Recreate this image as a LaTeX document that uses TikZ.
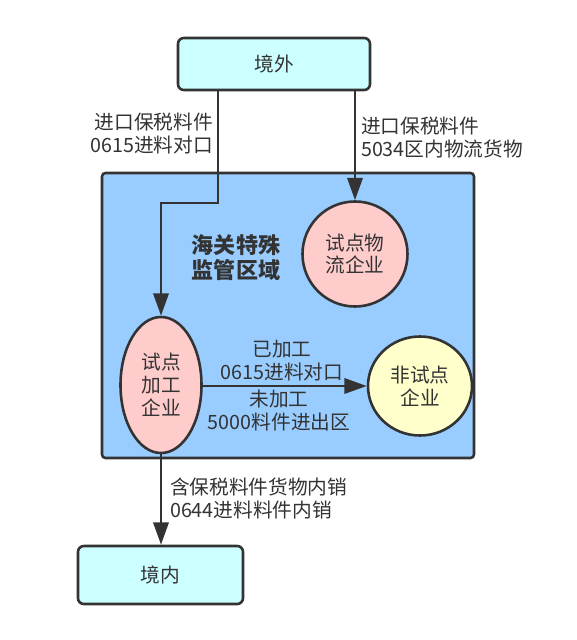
\documentclass[tikz,border=0pt]{standalone}
\usepackage{fontspec}
\setmainfont{Noto Sans CJK SC}
\usetikzlibrary{arrows.meta,shapes.geometric}
\definecolor{ink}{HTML}{333333}
\definecolor{outcolor}{HTML}{CCFFFF}
\definecolor{zonecolor}{HTML}{99CCFF}
\definecolor{pilotcolor}{HTML}{FFCCCC}
\definecolor{othercolor}{HTML}{FFFFCC}
\tikzset{
    box/.style={draw=ink, line width=2.2pt, rounded corners=5pt,
                fill=outcolor, align=center, text=ink},
    firm/.style={ellipse, draw=ink, line width=2.2pt, fill=pilotcolor,
                 inner sep=0pt, align=center, text=ink},
    flow/.style={-{Triangle[length=19pt, width=13pt]}, draw=ink,
                 line width=2.2pt},
    note/.style={align=center, text=ink},
}
\begin{document}
\begin{tikzpicture}[x=0.03cm, y=-0.03cm, font=\fontsize{16.8}{19.6}\selectfont]
    \path[use as bounding box, fill=white] (0,0) rectangle (576,640);

    % special supervision zone
    \node[box, fill=zonecolor, rounded corners=3pt,
          minimum width=11.16cm, minimum height=8.55cm] (zone) at (288,315.5) {};
    \node[note, font=\fontsize{18.8}{21.5}\selectfont\bfseries] (zonename) at (236,258)
        {海关特殊\\监管区域};

    \node[box, minimum width=5.76cm, minimum height=1.56cm] (abroad) at (274,64) {境外};
    \node[box, minimum width=4.95cm, minimum height=1.74cm] (domestic) at (160.5,575) {境内};

    \node[firm, minimum width=3.15cm, minimum height=3.15cm] (logistics) at (355,254)
        {试点物\\流企业};
    \node[firm, minimum width=2.43cm, minimum height=4.08cm] (pilot) at (161,385)
        {试点\\加工\\企业};
    \node[firm, fill=othercolor, minimum width=3.12cm, minimum height=2.97cm]
        (other) at (420,386) {非试点\\企业};

    \coordinate (bend) at (218,203);
    \draw[flow] (abroad.south -| bend) -- (bend) -- (bend -| pilot.north) -- (pilot.north);
    \draw[flow] (abroad.south -| logistics) -- (logistics.north);
    \draw[flow] (pilot.east |- other) -- (other.west);
    \draw[flow] (pilot.south) -- (domestic.north -| pilot.south);

    \node[note, anchor=east, align=right] (importleft) at (217,133.5)
        {进口保税料件\\0615进料对口};
    \node[note, anchor=west, align=left] (importright) at (357,138)
        {进口保税料件\\5034区内物流货物};
    \node[note] (processed) at (282,361) {已加工\\0615进料对口};
    \node[note] (unprocessed) at (279,411) {未加工\\5000料件进出区};
    \node[note, anchor=west, align=left] (sales) at (166,498.5)
        {含保税料件货物内销\\0644进料料件内销};
\end{tikzpicture}
\end{document}
